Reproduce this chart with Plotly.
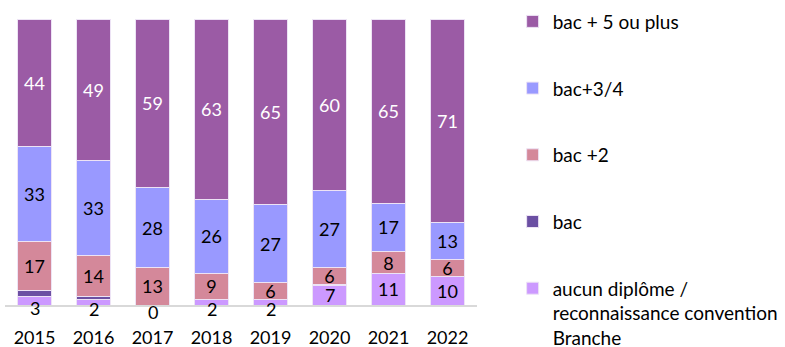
import plotly.graph_objects as go

years = ["2015", "2016", "2017", "2018", "2019", "2020", "2021", "2022"]

# shares by level of diploma, bottom to top of each stack
aucun = [3, 2, 0, 2, 2, 7, 11, 10]
bac = [2, 1, 0, 0, 0, 0.3, 0, 0]
bac2 = [17, 14, 13, 9, 6, 6, 8, 6]
bac34 = [33, 33, 28, 26, 27, 27, 17, 13]
bac5 = [44, 49, 59, 63, 65, 60, 65, 71]

series = [
    ("aucun diplôme /<br>reconnaissance convention<br>Branche", aucun, "#CC99FF", None, 5),
    ("bac", bac, "#6B4FA3", None, 4),
    ("bac +2", bac2, "#D4889A", "#000000", 3),
    ("bac+3/4", bac34, "#9999FF", "#000000", 2),
    ("bac + 5 ou plus", bac5, "#9B5BA5", "#FFFFFF", 1),
]

FONT = "Lato"
fig = go.Figure()
for i, (name, vals, color, tcolor, rank) in enumerate(series):
    fig.add_trace(go.Bar(
        x=years, y=vals, name=name,
        marker=dict(color=color, line=dict(color="#EDE3F5", width=1)),
        text=[str(v) for v in vals] if tcolor else None,
        textposition="inside" if tcolor else "none",
        insidetextanchor="middle",
        textangle=0,
        textfont=dict(family=FONT, size=18, color=tcolor or "#000"),
        legendgroup=f"g{i}", legendrank=rank,
        hoverinfo="skip",
    ))

# labels of the bottom segment, centred on it (drawn even when the bar is tiny)
totals = [sum(s[1][k] for s in series) for k in range(len(years))]
for k in range(len(years)):
    fig.add_annotation(
        x=k, y=aucun[k] / 2 / totals[k] * 100, text=str(aucun[k]),
        showarrow=False, yanchor="middle", yshift=-7 if aucun[k] < 5 else 0,
        font=dict(family=FONT, size=18, color="#000"),
    )

fig.update_layout(
    width=785, height=347,
    margin=dict(l=5, r=308, t=19, b=42, autoexpand=False),
    barmode="stack", barnorm="percent", bargap=0.41,
    plot_bgcolor="white", paper_bgcolor="white",
    uniformtext=dict(minsize=18, mode="show"),
    showlegend=True,
    legend=dict(
        x=1.0755, y=1.0575, xanchor="left", yanchor="top",
        font=dict(family=FONT, size=19, color="#000"),
        tracegroupgap=39, itemwidth=30, valign="top",
        bgcolor="rgba(0,0,0,0)", maxheight=600,
    ),
    xaxis=dict(
        type="category", range=[-0.5, 7.5],
        showline=True, linecolor="#D9D9D9", linewidth=2,
        ticks="", ticklabelstandoff=15,
        tickfont=dict(family=FONT, size=18, color="#000"),
        showgrid=False, zeroline=False,
    ),
    yaxis=dict(range=[0, 100], visible=False, showgrid=False),
)

fig.write_html("out.html")
